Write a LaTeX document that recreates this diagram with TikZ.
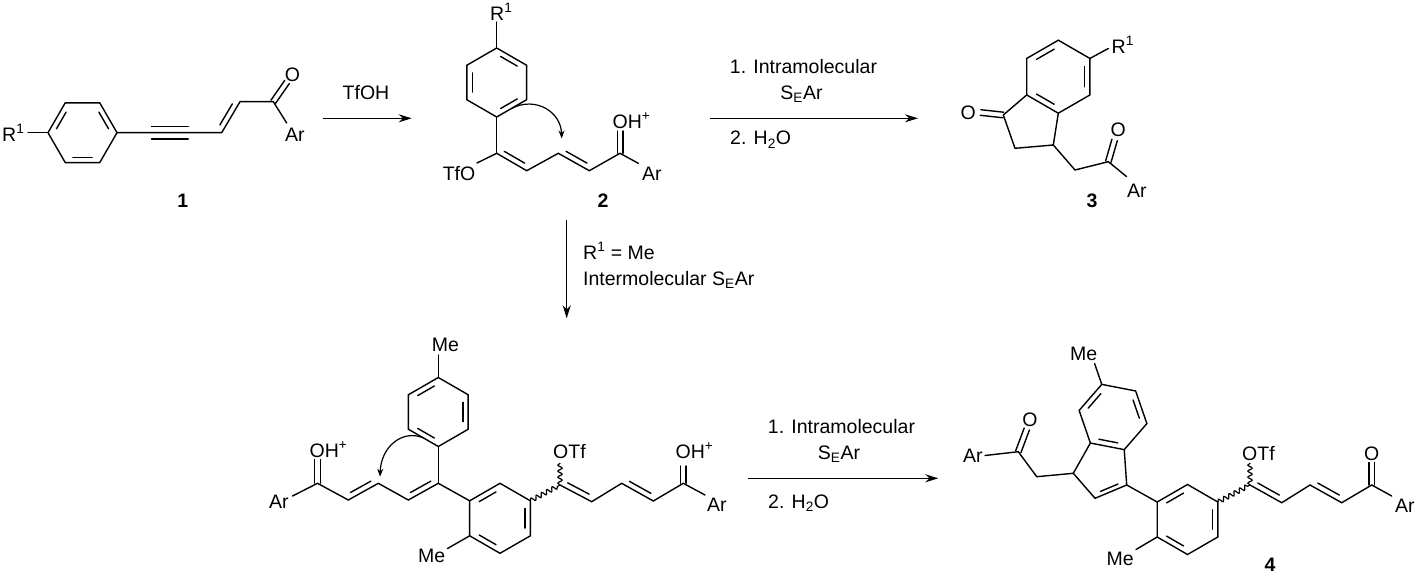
\documentclass[tikz,border=0pt]{standalone}
\usepackage{fontspec}
\setmainfont{Liberation Sans}
\usetikzlibrary{calc,arrows.meta,decorations.pathmorphing}
\tikzset{
	bond/.style={line width=1.4pt, line cap=round},
	wavy/.style={line width=1.2pt, decorate, decoration={snake, amplitude=2.2pt, segment length=6pt}},
	rxn/.style={line width=1.4pt, -{Stealth[length=13pt, width=8pt]}},
	curly/.style={line width=1.2pt, -{Stealth[length=8pt, width=6pt]}},
	lbl/.style={inner sep=0pt, font=\fontsize{19.5}{23}\selectfont},
	cmpd/.style={inner sep=0pt, font=\fontsize{19.5}{23}\selectfont\bfseries}
}
\def\hexring(#1)(#2:#3)#4{\coordinate (#4c) at (#1); \foreach \k in {1,...,6}{\coordinate (#4\k) at ($(#1)+({#2+60*(\k-1)}:#3)$);} \draw[bond] (#41) -- (#42) -- (#43) -- (#44) -- (#45) -- (#46) -- cycle;}
\def\ringdbl(#1)(#2)(#3){\draw[bond] ($(#1)!0.16!(#2)!0.18!(#3)$) -- ($(#1)!0.84!(#2)!0.18!(#3)$);}
\def\sidedbl(#1)(#2)#3{\draw[bond] ($(#1)!0.16!(#2)!5.5pt!#3:(#2)$) -- ($(#1)!0.84!(#2)!5.5pt!#3:(#2)$);}
\def\cdbl(#1)(#2){\draw[bond] ($(#1)!2.8pt!90:(#2)$) -- ($(#2)!2.8pt!-90:(#1)$) ($(#1)!2.8pt!-90:(#2)$) -- ($(#2)!2.8pt!90:(#1)$);}
\begin{document}
\begin{tikzpicture}[x=1pt, y=-1pt]
			%%%%% START %%%%%
			\useasboundingbox (0,0) rectangle (1418,583);
			
			% 1
			\hexring(82.5,132.7)(0:34.5){a}
			\ringdbl(a4)(a5)(ac) \ringdbl(a6)(a1)(ac) \ringdbl(a2)(a3)(ac)
			\coordinate (a7) at (28,132.7);
			\coordinate (c1) at (221.7,132.7);
			\coordinate (c2) at (240,101.7);
			\coordinate (c3) at (273.3,101.7);
			\coordinate (o1) at (287,82);
			\coordinate (ar1) at (286.7,123);
			\draw[bond] (a7) -- (a4);
			\draw[bond] (a1) -- (c1) -- (c2) -- (c3) -- (ar1);
			\draw[bond] ($(a1)!0.33!(c1)+(0,-6.3)$) -- ($(a1)!0.68!(c1)+(0,-6.3)$);
			\draw[bond] ($(a1)!0.33!(c1)+(0,6.3)$) -- ($(a1)!0.68!(c1)+(0,6.3)$);
			\sidedbl(c1)(c2){90}
			\cdbl(c3)(o1)
			\node[lbl, anchor=base west] (r1) at (2,141.5) {R\textsuperscript{1}};
			\node[lbl, anchor=base] (ox1) at (292.5,81.5) {O};
			\node[lbl, anchor=base west] (arx1) at (285,141.7) {Ar};
			\node[cmpd, anchor=base] (n1) at (182.7,207.5) {1};
			
			\coordinate (r1s) at (323,118.3);
			\coordinate (r1e) at (411.7,118.3);
			\draw[rxn] (r1s) -- (r1e);
			\node[lbl, anchor=base] (tfoh) at (366,100) {TfOH};
			
			% 2
			\hexring(496.7,82.5)(-90:34.5){b}
			\ringdbl(b1)(b2)(bc) \ringdbl(b3)(b4)(bc) \ringdbl(b5)(b6)(bc)
			\coordinate (b7) at (496.7,22);
			\coordinate (d1) at (496.7,153.3);
			\coordinate (tfo) at (477,163);
			\coordinate (d2) at (526.7,170.7);
			\coordinate (d3) at (558.3,153.3);
			\coordinate (d4) at (589.3,170.7);
			\coordinate (d5) at (620,153.3);
			\coordinate (o2) at (620,131);
			\coordinate (ar2) at (638.3,163.3);
			\draw[bond] (b7) -- (b1);
			\draw[bond] (b4) -- (d1);
			\draw[bond] (tfo) -- (d1) -- (d2) -- (d3) -- (d4) -- (d5) -- (ar2);
			\sidedbl(d1)(d2){90}
			\sidedbl(d3)(d4){90}
			\cdbl(d5)(o2)
			\draw[curly] ($(b3)!0.5!(b4)$) .. controls (536,96) and (561,112) .. (561.7,138.5);
			\node[lbl, anchor=base west] (r2) at (490,20.5) {R\textsuperscript{1}};
			\node[lbl, anchor=base east] (tfox2) at (475.5,180) {TfO};
			\node[lbl, anchor=base west] (oh2) at (612.4,128.3) {OH\textsuperscript{+}};
			\node[lbl, anchor=base west] (arx2) at (642,180) {Ar};
			\node[cmpd, anchor=base] (n2) at (603,207.5) {2};
			
			\coordinate (r2s) at (710,118.3);
			\coordinate (r2e) at (918,118.3);
			\draw[rxn] (r2s) -- (r2e);
			\node[lbl, anchor=base] (t21) at (803.5,73.5) {1. Intramolecular};
			\node[lbl, anchor=base] (t22) at (801.5,99.5) {S\textsubscript{E}Ar};
			\node[lbl, anchor=base west] (t23) at (730,145) {2. H\textsubscript{2}O};
			
			% 3
			\hexring(1058.3,76.7)(-90:36.5){e}
			\ringdbl(e6)(e1)(ec) \ringdbl(e2)(e3)(ec) \ringdbl(e5)(e4)(ec)
			\coordinate (e7) at (1108.3,48.5);
			\coordinate (f1) at (1003.3,115);
			\coordinate (f2) at (1015,148.3);
			\coordinate (f3) at (1053.3,145);
			\coordinate (o3) at (980.5,112.5);
			\coordinate (f4) at (1075,170);
			\coordinate (f5) at (1108.3,161.7);
			\coordinate (o4) at (1114.6,140);
			\coordinate (ar3) at (1126.7,176.7);
			\draw[bond] (e2) -- (e7);
			\draw[bond] (e5) -- (f1) -- (f2) -- (f3) -- (e4);
			\draw[bond] (f3) -- (f4) -- (f5) -- (ar3);
			\cdbl(f1)(o3)
			\cdbl(f5)(o4)
			\node[lbl, anchor=base west] (r3) at (1111.5,53.5) {R\textsuperscript{1}};
			\node[lbl, anchor=base] (ox3) at (968.3,120) {O};
			\node[lbl, anchor=base] (ox4) at (1118.3,136.7) {O};
			\node[lbl, anchor=base west] (arx3) at (1127,197) {Ar};
			\node[cmpd, anchor=base] (n3) at (1092,207.5) {3};
			
			\coordinate (r3s) at (566.7,220);
			\coordinate (r3e) at (566.7,318.3);
			\draw[rxn] (r3s) -- (r3e);
			\node[lbl, anchor=base west] (t31) at (583,259.5) {R\textsuperscript{1} = Me};
			\node[lbl, anchor=base west] (t32) at (583,285) {Intermolecular S\textsubscript{E}Ar};
			
			% intermediate
			\coordinate (g0) at (292.5,496);
			\coordinate (g1) at (317.5,483.3);
			\coordinate (og1) at (317.5,459.5);
			\coordinate (g2) at (348.3,500);
			\coordinate (g3) at (378.3,483.3);
			\coordinate (g4) at (408.3,500);
			\coordinate (g5) at (438.3,483.3);
			\draw[bond] (g0) -- (g1) -- (g2) -- (g3) -- (g4) -- (g5);
			\cdbl(g1)(og1)
			\sidedbl(g2)(g3){90}
			\sidedbl(g4)(g5){90}
			\hexring(438.3,412)(-90:34.5){h}
			\ringdbl(h6)(h1)(hc) \ringdbl(h2)(h3)(hc) \ringdbl(h5)(h4)(hc)
			\coordinate (h7) at (438.3,355);
			\draw[bond] (h1) -- (h7);
			\draw[bond] (h4) -- (g5);
			\draw[curly] ($(h5)!0.5!(h4)$) .. controls (402,429) and (381,447) .. (380,476.7);
			\hexring(500,518.3)(-90:35){k}
			\ringdbl(k6)(k1)(kc) \ringdbl(k2)(k3)(kc) \ringdbl(k4)(k5)(kc)
			\coordinate (k7) at (447.5,548.5);
			\draw[bond] (g5) -- (k6);
			\draw[bond] (k5) -- (k7);
			\coordinate (m1) at (560,485);
			\coordinate (otf1) at (560,463);
			\coordinate (m2) at (591.7,501.7);
			\coordinate (m3) at (621.7,483.3);
			\coordinate (m4) at (653.3,501);
			\coordinate (m5) at (683.3,483.3);
			\coordinate (om5) at (683.3,466);
			\coordinate (ar5) at (705,495);
			\draw[wavy] (k2) -- (m1);
			\draw[wavy] (m1) -- (otf1);
			\draw[bond] (m1) -- (m2) -- (m3) -- (m4) -- (m5) -- (ar5);
			\sidedbl(m1)(m2){90}
			\sidedbl(m3)(m4){90}
			\cdbl(m5)(om5)
			\node[lbl, anchor=base west] (arx4) at (269,508) {Ar};
			\node[lbl, anchor=base west] (oh4) at (309.5,457) {OH\textsuperscript{+}};
			\node[lbl, anchor=base west] (me4) at (431.7,351.7) {Me};
			\node[lbl, anchor=base east] (me5) at (445.5,562) {Me};
			\node[lbl, anchor=base west] (otfx1) at (553,458) {OTf};
			\node[lbl, anchor=base west] (oh5) at (675.5,458) {OH\textsuperscript{+}};
			\node[lbl, anchor=base west] (arx5) at (707,511) {Ar};
			
			\coordinate (r4s) at (748.3,478.3);
			\coordinate (r4e) at (938.3,478.3);
			\draw[rxn] (r4s) -- (r4e);
			\node[lbl, anchor=base] (t41) at (841.5,433.5) {1. Intramolecular};
			\node[lbl, anchor=base] (t42) at (839,459.5) {S\textsubscript{E}Ar};
			\node[lbl, anchor=base west] (t43) at (768,508.5) {2. H\textsubscript{2}O};
			
			% 4
			\coordinate (n0) at (985,455.5);
			\coordinate (n1) at (1018.3,451.7);
			\coordinate (on1) at (1026.8,429);
			\coordinate (n2) at (1036.7,476.7);
			\coordinate (n3) at (1073.3,473.3);
			\draw[bond] (n0) -- (n1) -- (n2) -- (n3);
			\cdbl(n1)(on1)
			\hexring(1113,417)(11:34.5){p}
			\ringdbl(p3)(p2)(pc) \ringdbl(p4)(p5)(pc) \ringdbl(p6)(p1)(pc)
			\coordinate (p7) at (1094.6,363.6);
			\draw[bond] (p5) -- (p7);
			\coordinate (q1) at (1126.7,485);
			\coordinate (q2) at (1095,498.3);
			\coordinate (qc) at (1101.9,469.8);
			\draw[bond] (n3) -- (p3);
			\draw[bond] (p2) -- (q1) -- (q2) -- (n3);
			\ringdbl(q2)(q1)(qc)
			\hexring(1187.5,519.5)(-90:35){s}
			\ringdbl(s6)(s1)(sc) \ringdbl(s2)(s3)(sc) \ringdbl(s4)(s5)(sc)
			\coordinate (s7) at (1136,549.5);
			\draw[bond] (q1) -- (s6);
			\draw[bond] (s5) -- (s7);
			\coordinate (t1) at (1250,485);
			\coordinate (otf2) at (1250,463);
			\coordinate (t2) at (1281.7,502.7);
			\coordinate (t3) at (1310,485);
			\coordinate (t4) at (1341.7,502.7);
			\coordinate (t5) at (1371.7,485);
			\coordinate (ot5) at (1371.7,462.5);
			\coordinate (ar6) at (1391.7,496);
			\draw[wavy] (s2) -- (t1);
			\draw[wavy] (t1) -- (otf2);
			\draw[bond] (t1) -- (t2) -- (t3) -- (t4) -- (t5) -- (ar6);
			\sidedbl(t1)(t2){90}
			\sidedbl(t3)(t4){90}
			\cdbl(t5)(ot5)
			\node[lbl, anchor=base west] (arx6) at (963,462) {Ar};
			\node[lbl, anchor=base] (ox6) at (1030,426.7) {O};
			\node[lbl, anchor=base west] (me6) at (1070,360) {Me};
			\node[lbl, anchor=base east] (me7) at (1134,565) {Me};
			\node[lbl, anchor=base west] (otfx2) at (1242,460) {OTf};
			\node[lbl, anchor=base] (ox7) at (1371.7,460) {O};
			\node[lbl, anchor=base west] (arx7) at (1395,512) {Ar};
			\node[cmpd, anchor=base] (n4) at (1270,571.5) {4};
			
			%%%%% END %%%%%
\end{tikzpicture}
\end{document}
